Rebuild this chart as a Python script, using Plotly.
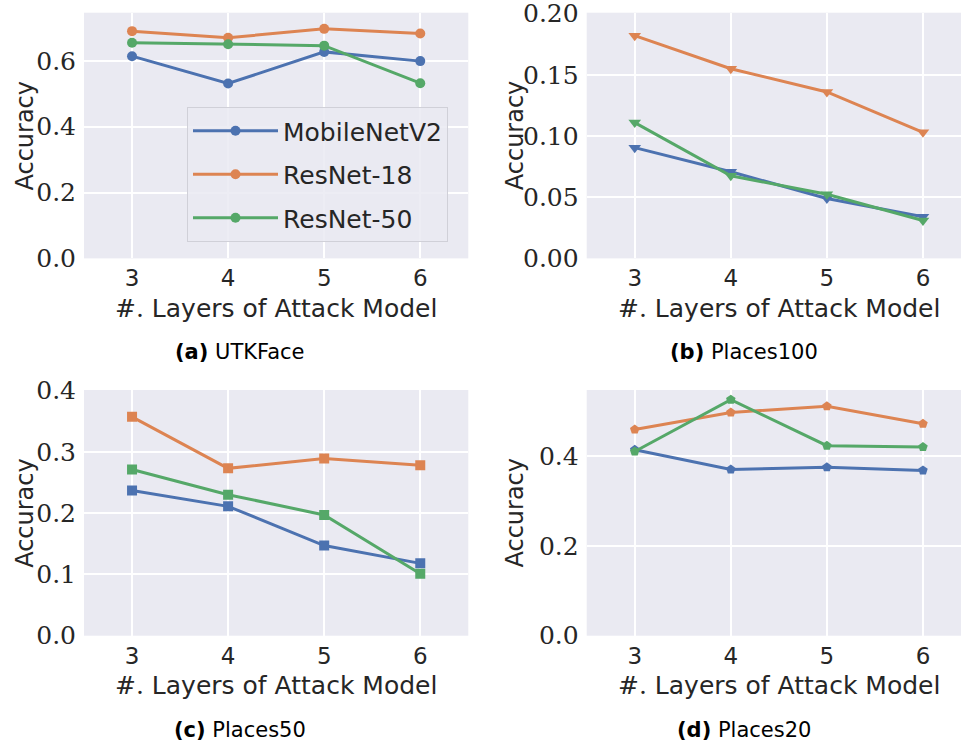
import plotly.graph_objects as go

layers = [3, 4, 5, 6]
models = ["MobileNetV2", "ResNet-18", "ResNet-50"]

utk_mobilenet = [0.614, 0.531, 0.627, 0.599]
utk_resnet18 = [0.690, 0.670, 0.697, 0.683]
utk_resnet50 = [0.655, 0.650, 0.646, 0.532]

p100_mobilenet = [0.0905, 0.0708, 0.049, 0.034]
p100_resnet18 = [0.182, 0.155, 0.136, 0.103]
p100_resnet50 = [0.111, 0.0675, 0.0524, 0.031]

p50_mobilenet = [0.237, 0.211, 0.147, 0.118]
p50_resnet18 = [0.357, 0.273, 0.289, 0.278]
p50_resnet50 = [0.271, 0.230, 0.197, 0.101]

p20_mobilenet = [0.414, 0.370, 0.375, 0.368]
p20_resnet18 = [0.459, 0.497, 0.511, 0.472]
p20_resnet50 = [0.410, 0.5255, 0.423, 0.420]

captions = ["UTKFace", "Places100", "Places50", "Places20"]
letters = ["a", "b", "c", "d"]
y_ticks = [[0.0, 0.2, 0.4, 0.6], [0.0, 0.05, 0.10, 0.15, 0.20],
           [0.0, 0.1, 0.2, 0.3, 0.4], [0.0, 0.2, 0.4]]
y_ticktext = [["0.0", "0.2", "0.4", "0.6"], ["0.00", "0.05", "0.10", "0.15", "0.20"],
              ["0.0", "0.1", "0.2", "0.3", "0.4"], ["0.0", "0.2", "0.4"]]
y_ranges = [[0, 0.746], [0, 0.2008], [0, 0.4008], [0, 0.547]]

panels = [
    [utk_mobilenet, utk_resnet18, utk_resnet50],
    [p100_mobilenet, p100_resnet18, p100_resnet50],
    [p50_mobilenet, p50_resnet18, p50_resnet50],
    [p20_mobilenet, p20_resnet18, p20_resnet50],
]
symbols = ["circle", "triangle-down", "square", "pentagon"]
msizes = [10, 11, 10, 10]
colors = ["#4C72B0", "#DD8452", "#55A868"]

W, H = 961, 744
left_x = [84, 586.7]
plot_w = 384.3
top_y = [12.7, 390]
plot_h = 245.7
px_per_unit = plot_w / 4.0
ytitle_off = [59, 72]

fig = go.Figure()
SANS = "DejaVu Sans"
SERIF = "DejaVu Serif"
INK = "#262626"

for i in range(4):
    r, c = divmod(i, 2)
    x0 = left_x[c]
    x1 = min(x0 + plot_w, W)
    xr_hi = 2.5 + (x1 - x0) / px_per_unit
    y0 = top_y[r]
    y1 = y0 + plot_h
    ax = "" if i == 0 else str(i + 1)
    fig.update_layout(**{
        f"xaxis{ax}": dict(
            domain=[x0 / W, x1 / W], range=[2.5, xr_hi], automargin=False,
            anchor=f"y{ax}", tickvals=layers, ticktext=[str(v) for v in layers],
            showgrid=True, gridcolor="white", gridwidth=1.5, zeroline=False,
            showline=False, ticks="", ticklabelstandoff=4,
            tickfont=dict(family=SANS, size=23, color=INK),
        ),
        f"yaxis{ax}": dict(
            domain=[1 - y1 / H, 1 - y0 / H], range=y_ranges[i], automargin=False,
            anchor=f"x{ax}", tickvals=y_ticks[i], ticktext=y_ticktext[i],
            showgrid=True, gridcolor="white", gridwidth=1.5, zeroline=False,
            showline=False, ticks="", ticklabelstandoff=7, ticklabeloverflow="allow",
            tickfont=dict(family=SERIF, size=25, color=INK),
        ),
    })
    for k in range(3):
        fig.add_trace(go.Scatter(
            x=layers, y=panels[i][k], mode="lines+markers", name=models[k],
            xaxis=f"x{ax}", yaxis=f"y{ax}",
            line=dict(color=colors[k], width=3),
            marker=dict(symbol=symbols[i], size=msizes[i], color=colors[k], line=dict(width=0)),
            showlegend=(i == 0), legendgroup=models[k],
        ))
    cx = (x0 + x0 + plot_w) / 2
    fig.add_annotation(
        xref="paper", yref="paper", x=cx / W, y=1 - (y1 + 50) / H,
        text="<span style=\"font-family:DejaVu Serif\">#.</span> Layers of Attack Model",
        showarrow=False, font=dict(family=SANS, size=25, color=INK),
        xanchor="center", yanchor="middle",
    )
    fig.add_annotation(
        xref="paper", yref="paper", x=(x0 - ytitle_off[c]) / W, y=1 - (y0 + y1) / 2 / H,
        text="Accuracy", textangle=-90,
        showarrow=False, font=dict(family=SANS, size=24, color=INK),
        xanchor="center", yanchor="middle",
    )
    cap_x = 240 if c == 0 else 744
    fig.add_annotation(
        xref="paper", yref="paper", x=cap_x / W, y=1 - (y1 + 94) / H,
        text=f"<b>({letters[i]})</b> {captions[i]}",
        showarrow=False, font=dict(family=SANS, size=21, color="black"),
        xanchor="center", yanchor="middle",
    )

fig.update_layout(
    width=W, height=H,
    margin=dict(l=0, r=0, t=0, b=0, autoexpand=False),
    paper_bgcolor="white", plot_bgcolor="#EAEAF2",
    showlegend=True,
    legend=dict(
        x=187 / W, y=1 - 107 / H, xanchor="left", yanchor="top",
        bgcolor="rgba(234,234,242,0.85)", bordercolor="#D0D0D8", borderwidth=1,
        font=dict(family=SANS, size=25, color=INK),
        tracegroupgap=8, itemwidth=85,
    ),
)

fig.write_html("out.html", config={"displayModeBar": False},
               post_script="document.body.style.margin='0';document.body.style.overflow='hidden';")
